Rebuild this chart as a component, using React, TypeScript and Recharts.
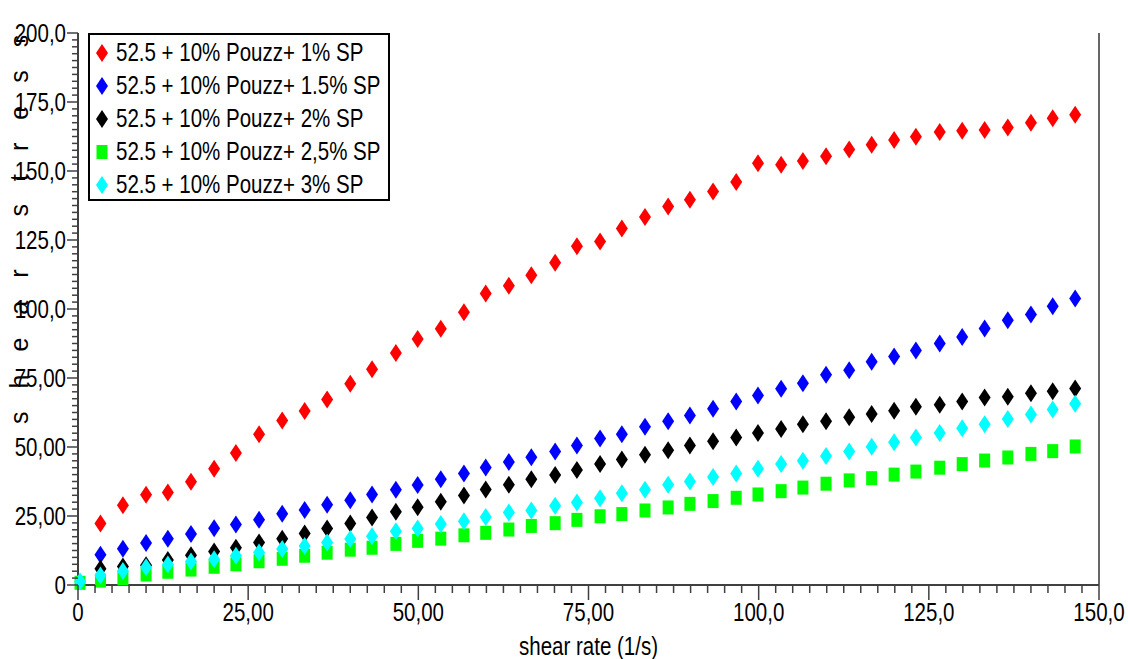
import { ScatterChart, Scatter, XAxis, YAxis, Legend, ReferenceLine } from "recharts";

const FONT = '"Liberation Sans", Arial, sans-serif';
const NARROW = 0.82;

const shearRate = [
  0.3, 3.3, 6.6, 10.0, 13.2, 16.6, 20.0, 23.2, 26.6, 30.0, 33.3, 36.6, 40.0, 43.2, 46.7,
  49.9, 53.3, 56.7, 59.9, 63.3, 66.6, 70.1, 73.3, 76.7, 79.9, 83.3, 86.7, 89.9, 93.3, 96.7,
  99.9, 103.3, 106.5, 109.9, 113.3, 116.6, 119.9, 123.1, 126.6, 129.9, 133.2, 136.6, 140.0,
  143.2, 146.5,
];

const stress1 = [
  null, 22.3, 28.9, 32.7, 33.5, 37.4, 42.1, 47.8, 54.6, 59.6, 63.0, 67.2, 72.9, 78.2, 84.1,
  89.1, 92.8, 98.8, 105.6, 108.4, 112.2, 116.8, 122.7, 124.5, 129.2, 133.3, 137.1, 139.6,
  142.6, 146.0, 152.8, 152.3, 153.6, 155.3, 157.8, 159.5, 161.2, 162.4, 164.1, 164.6, 164.9,
  165.8, 167.5, 169.1, 170.4,
];
const stress15 = [
  null, 11.0, 13.1, 15.2, 16.8, 18.5, 20.6, 21.9, 23.6, 25.8, 27.2, 29.1, 30.7, 32.8, 34.5,
  36.2, 38.3, 40.4, 42.6, 44.6, 46.3, 48.4, 50.5, 53.1, 54.6, 57.3, 59.3, 61.4, 63.9, 66.5,
  68.7, 71.1, 73.1, 76.2, 77.8, 80.9, 82.8, 85.0, 87.5, 89.9, 92.9, 95.9, 98.0, 101.0, 103.8,
];
const stress2 = [
  null, 5.9, 6.7, 7.2, 9.1, 10.8, 12.1, 13.5, 15.4, 16.8, 18.7, 20.5, 22.3, 24.5, 26.5,
  28.2, 30.2, 32.4, 34.6, 36.3, 38.3, 39.9, 41.7, 43.8, 45.5, 47.2, 48.8, 50.5, 52.1, 53.4,
  55.1, 56.5, 58.2, 59.3, 60.8, 62.0, 63.1, 64.6, 65.3, 66.5, 67.9, 68.2, 69.5, 70.2, 71.2,
];
const stress25 = [
  0.8, 1.6, 2.4, 3.8, 4.8, 5.6, 6.6, 7.5, 8.6, 9.5, 10.6, 11.7, 12.8, 13.5, 14.9, 16.0,
  16.8, 18.0, 18.9, 20.1, 21.4, 22.4, 23.6, 24.9, 25.7, 27.0, 28.1, 29.4, 30.4, 31.6, 32.8,
  34.0, 35.3, 36.7, 37.9, 38.7, 40.0, 41.1, 42.5, 43.8, 45.1, 46.2, 47.5, 48.5, 50.2,
];
const stress3 = [
  1.3, 3.4, 5.1, 6.4, 7.4, 8.5, 9.3, 10.6, 11.8, 13.0, 14.1, 15.4, 16.7, 17.7, 19.5, 20.5,
  22.1, 23.1, 24.6, 26.3, 27.0, 28.7, 29.9, 31.4, 33.2, 34.5, 36.3, 37.5, 39.1, 40.4, 42.1,
  43.8, 45.0, 46.7, 48.4, 50.1, 51.7, 53.4, 55.1, 56.8, 58.2, 60.1, 61.8, 63.6, 65.7,
];

const seriesNames = [
  "52.5 + 10% Pouzz+ 1% SP",
  "52.5 + 10% Pouzz+ 1.5% SP",
  "52.5 + 10% Pouzz+ 2% SP",
  "52.5 + 10% Pouzz+ 2,5% SP",
  "52.5 + 10% Pouzz+ 3% SP",
];
const seriesColors = ["#ff0000", "#0000ff", "#000000", "#00ff00", "#00ffff"];
const seriesShapes = ["diamond", "diamond", "diamond", "square", "diamond"];
const seriesValues = [stress1, stress15, stress2, stress25, stress3];

const xMajor = [0, 25, 50, 75, 100, 125, 150];
const xMajorLabels = ["0", "25,00", "50,00", "75,00", "100,0", "125,0", "150,0"];
const yMajor = [0, 25, 50, 75, 100, 125, 150, 175, 200];
const yMajorLabels = ["0", "25,00", "50,00", "75,00", "100,0", "125,0", "150,0", "175,0", "200,0"];

const xTicks = Array.from({ length: 61 }, (_, i) => i * 2.5);
const yTicks = Array.from({ length: 81 }, (_, i) => i * 2.5);

const AXIS = "#404040";

const toPoints = (vals: (number | null)[]) =>
  shearRate.map((x, i) => ({ x, y: vals[i] })).filter((p) => p.y !== null);

const markerPath = (kind: string, cx: number, cy: number) =>
  kind === "square"
    ? `M${cx - 5.5},${cy - 7}h11v14h-11Z`
    : `M${cx},${cy - 9}L${cx + 6},${cy}L${cx},${cy + 9}L${cx - 6},${cy}Z`;

const makeShape = (kind: string, color: string) => (props: any) => {
  const { cx, cy } = props;
  if (cx == null || cy == null) return <g />;
  return <path d={markerPath(kind, cx, cy)} fill={color} />;
};

// condensed look: Liberation Sans squeezed horizontally
const NText = ({ x, y, anchor, children, size = 25 }: any) => (
  <text
    transform={`translate(${x},${y}) scale(${NARROW},1)`}
    textAnchor={anchor || "start"}
    fontSize={size}
    fontFamily={FONT}
    fill="#000"
  >
    {children}
  </text>
);

const XTick = (props: any) => {
  const { x, y, payload } = props;
  const idx = xMajor.indexOf(payload.value);
  const major = idx >= 0;
  return (
    <g>
      <line x1={x} x2={x} y1={y} y2={y + (major ? 15 : 8)} stroke={AXIS} strokeWidth={1.5} />
      {major && (
        <NText x={x} y={y + 36} anchor="middle">
          {xMajorLabels[idx]}
        </NText>
      )}
    </g>
  );
};

const YTick = (props: any) => {
  const { x, y, payload } = props;
  const idx = yMajor.indexOf(payload.value);
  const major = idx >= 0;
  return (
    <g>
      <line x1={x - (major ? 11 : 6)} x2={x} y1={y} y2={y} stroke={AXIS} strokeWidth={1.5} />
      {major && (
        <NText x={x - 12} y={y + 9} anchor="end">
          {yMajorLabels[idx]}
        </NText>
      )}
    </g>
  );
};

const XTitle = (props: any) => {
  const vb = props.viewBox;
  return (
    <NText x={vb.x + vb.width / 2} y={vb.y + vb.height - 4} anchor="middle">
      shear rate (1/s)
    </NText>
  );
};

const LegendBox = () => (
  <div
    style={{
      border: "2px solid #000",
      background: "#fff",
      width: 298,
      height: 164,
      boxSizing: "content-box",
      fontFamily: FONT,
      fontSize: 25,
      color: "#000",
      textAlign: "left",
    }}
  >
    {seriesNames.map((name, i) => (
      <div key={name} style={{ display: "flex", alignItems: "center", height: 33, marginTop: i === 0 ? 1 : 0 }}>
        <svg width={26} height={20} style={{ flex: "none" }}>
          <path d={markerPath(seriesShapes[i], 12, 10)} fill={seriesColors[i]} />
        </svg>
        <span
          style={{
            whiteSpace: "nowrap",
            lineHeight: "33px",
            display: "inline-block",
            transform: `scaleX(${NARROW})`,
            transformOrigin: "left center",
          }}
        >
          {name}
        </span>
      </div>
    ))}
  </div>
);

export default function App() {
  return (
    <div style={{ position: "absolute", left: 0, top: 0, width: 1128, height: 659, background: "#fff" }}>
      <ScatterChart width={1128} height={659} margin={{ top: 33, right: 29, bottom: 0, left: 0 }}>
        <XAxis
          type="number"
          dataKey="x"
          domain={[0, 150]}
          ticks={xTicks}
          interval={0}
          tick={<XTick />}
          tickLine={false}
          tickSize={0}
          tickMargin={0}
          axisLine={{ stroke: AXIS, strokeWidth: 2 }}
          height={74}
          label={(p: any) => <XTitle {...p} />}
        />
        <YAxis
          type="number"
          dataKey="y"
          domain={[0, 200]}
          ticks={yTicks}
          interval={0}
          tick={<YTick />}
          tickLine={false}
          tickSize={0}
          tickMargin={0}
          axisLine={{ stroke: AXIS, strokeWidth: 2 }}
          width={78}
        />
        <ReferenceLine x={150} stroke="#666" strokeWidth={2} />
        <Legend
          layout="horizontal"
          verticalAlign="middle"
          align="center"
          content={<LegendBox />}
          wrapperStyle={{ position: "absolute", left: 88, top: 33, width: "auto", height: "auto" }}
        />
        {seriesNames.map((name, i) => (
          <Scatter
            key={name}
            name={name}
            data={toPoints(seriesValues[i])}
            fill={seriesColors[i]}
            shape={makeShape(seriesShapes[i], seriesColors[i])}
            isAnimationActive={false}
          />
        ))}
      </ScatterChart>
      <svg
        width={60}
        height={659}
        style={{ position: "absolute", left: 0, top: 0, pointerEvents: "none" }}
      >
        <text
          transform="translate(28, 424) rotate(-90)"
          fontSize={25}
          fontFamily={FONT}
          fill="#000"
          style={{ letterSpacing: "23px" }}
        >
          shear stress
        </text>
      </svg>
    </div>
  );
}
